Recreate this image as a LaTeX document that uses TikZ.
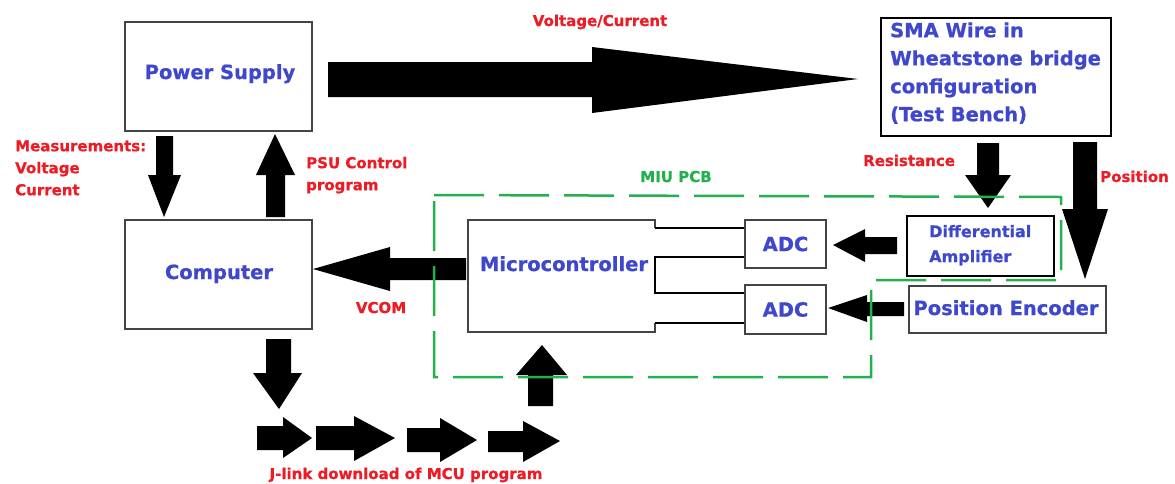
\documentclass[tikz,border=0pt]{standalone}
\usepackage{fontspec}
\setmainfont{DejaVu Sans}[BoldFeatures={FakeBold=0.8}]
\definecolor{pblue}{RGB}{63,72,204}
\definecolor{pred}{RGB}{237,28,36}
\definecolor{pgreen}{RGB}{34,177,76}
\definecolor{pgray}{RGB}{68,68,68}
\begin{document}
\begin{tikzpicture}[x=1pt,y=-1pt,
  gbox/.style={draw=pgray, line width=2pt, inner sep=0pt},
  kbox/.style={draw=black, line width=2.6pt, inner sep=0pt},
  btxt/.style={text=pblue, font=\bfseries\fontsize{19.5}{28}\selectfont, inner sep=0pt},
  stxt/.style={text=pblue, font=\bfseries\fontsize{16}{25}\selectfont, inner sep=0pt},
  rtxt/.style={text=pred, font=\bfseries\fontsize{15}{22}\selectfont, inner sep=0pt},
  gtxt/.style={text=pgreen, font=\bfseries\fontsize{15}{22}\selectfont, inner sep=0pt},
  blk/.style={fill=black},
  bus/.style={draw=black, line width=2pt},
  pcb/.style={draw=pgreen, line width=2.5pt, dash pattern=on 50pt off 15pt},
]
\useasboundingbox[fill=white] (0,0) rectangle (1175,483);

% boxes
\node[gbox, minimum width=187pt, minimum height=109pt] (psu) at (218.5,76.5) {};
\node[btxt, anchor=base] (psut) at (220,79) {Power Supply};
\node[gbox, minimum width=187pt, minimum height=109pt] (comp) at (218.5,274.5) {};
\node[btxt, anchor=base] (compt) at (219,279) {Computer};
\node[kbox, minimum width=230pt, minimum height=118pt] (sma) at (996,77) {};
\node[btxt, anchor=north west, align=left] (smat) at (890,22.2) {SMA Wire in\\Wheatstone bridge\\configuration\\(Test Bench)};
\node[kbox, minimum width=147pt, minimum height=60pt] (amp) at (980.5,246) {};
\node[stxt, anchor=north west, align=left] (ampt) at (929,224.8) {Differential\\Amplifier};
\node[gbox, minimum width=197pt, minimum height=47pt] (enc) at (1007.5,309.5) {};
\node[btxt, anchor=base] (enct) at (1006,315) {Position Encoder};
\node[gbox, btxt, minimum width=81pt, minimum height=48pt] (adc1) at (785.5,244) {ADC};
\node[gbox, btxt, minimum width=81pt, minimum height=49pt] (adc2) at (785.5,309.5) {ADC};
\node[minimum width=187pt, minimum height=112pt, inner sep=0pt] (mcu) at (561.5,276) {};
\node[btxt, anchor=base] (mcut) at (564,271) {Microcontroller};

% microcontroller outline and buses to the ADCs
\draw[draw=pgray, line width=2pt] (655,228) -- (655,220) -- (468,220) -- (468,332) -- (655,332) -- (655,323);
\draw[bus] (655,228) -- (655,228 -| adc1.west);
\draw[bus] (655,257 -| adc1.west) -- (655,257) -- (655,293) -- (655,293 -| adc2.west);
\draw[bus] (655,323) -- (655,323 -| adc2.west);

% block arrows
\fill[blk] (328,62) -- (592,62) -- (592,47) -- (858,79) -- (592,113) -- (592,97) -- (328,97) -- cycle;
\fill[blk] (156,136) -- (173,136) -- (173,175) -- (181,175) -- (164,217) -- (148,175) -- (156,175) -- cycle;
\fill[blk] (266,217) -- (285,217) -- (285,175) -- (295,175) -- (275,134) -- (256,175) -- (266,175) -- cycle;
\fill[blk] (466,258) -- (390,258) -- (390,247) -- (313,269) -- (390,291) -- (390,280) -- (466,280) -- cycle;
\fill[blk] (977,143) -- (999,143) -- (999,175) -- (1011,175) -- (988,208) -- (965,175) -- (977,175) -- cycle;
\fill[blk] (1073,142) -- (1097,142) -- (1097,209) -- (1108,209) -- (1085,279) -- (1062,209) -- (1073,209) -- cycle;
\fill[blk] (897,237) -- (865,237) -- (865,229) -- (833,245) -- (865,262) -- (865,254) -- (897,254) -- cycle;
\fill[blk] (904,302) -- (867,302) -- (867,295) -- (828,308) -- (867,322) -- (867,316) -- (904,316) -- cycle;
\fill[blk] (266,339) -- (291,339) -- (291,373) -- (302,373) -- (279,409) -- (253,373) -- (266,373) -- cycle;
\fill[blk] (257,426) -- (283,426) -- (283,417) -- (312,438) -- (283,458) -- (283,450) -- (257,450) -- cycle;
\fill[blk] (316,426) -- (354,426) -- (354,416) -- (395,438) -- (354,461) -- (354,450) -- (316,450) -- cycle;
\fill[blk] (407,428) -- (440,428) -- (440,418) -- (477,440) -- (440,462) -- (440,452) -- (407,452) -- cycle;
\fill[blk] (488,431) -- (523,431) -- (523,421) -- (560,441) -- (523,462) -- (523,452) -- (488,452) -- cycle;
\fill[blk] (528,406) -- (553,406) -- (553,375) -- (567,375) -- (542,345) -- (516,375) -- (528,375) -- cycle;

% MIU PCB outline
\draw[pcb] (434,195) -- (1061,197) -- (1061,280) -- (871,280) -- (871,377) -- (434,377) -- cycle;

% labels
\node[rtxt, anchor=base] (vc) at (600,26) {Voltage/Current};
\node[rtxt, anchor=north west, align=left] (meas) at (15,140.1) {Measurements:\\Voltage\\Current};
\node[rtxt, anchor=north west, align=left] (psuc) at (306,156.6) {PSU Control\\program};
\node[gtxt, anchor=base] (miu) at (676,182) {MIU PCB};
\node[rtxt, anchor=base west] (res) at (863,166) {Resistance};
\node[rtxt, anchor=base west] (pos) at (1100,182) {Position};
\node[rtxt, anchor=base] (vcom) at (381,313) {VCOM};
\node[rtxt, anchor=base] (jl) at (406,479) {J-link download of MCU program};
\end{tikzpicture}
\end{document}
